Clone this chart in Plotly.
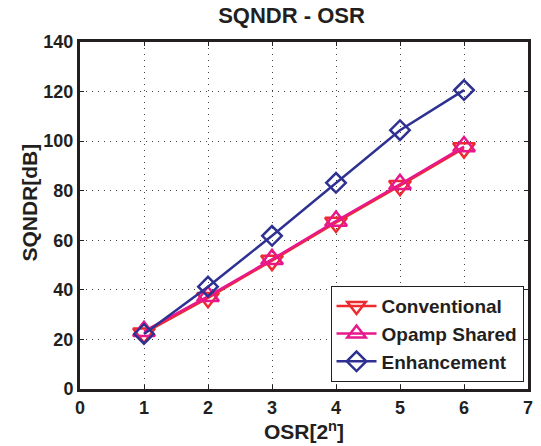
import plotly.graph_objects as go

osr = [1, 2, 3, 4, 5, 6]
conventional = [22.5, 36.8, 51.8, 67.2, 82.0, 97.2]
opamp_shared = [23.3, 37.4, 52.3, 67.8, 82.6, 97.8]
enhancement = [22.2, 41.3, 61.8, 83.2, 104.4, 120.6]

x_ticks = [0, 1, 2, 3, 4, 5, 6, 7]
y_ticks = [0, 20, 40, 60, 80, 100, 120, 140]

font_fam = "Liberation Sans, Arial, sans-serif"
ink = "#231f20"

fig = go.Figure()
fig.add_trace(go.Scatter(x=osr, y=conventional, name="<b>Conventional</b>", mode="lines+markers",
                         line=dict(color="#ed2b2e", width=2.5),
                         marker=dict(symbol="triangle-down-open", size=19, color="#ed2b2e", line=dict(width=2.5))))
fig.add_trace(go.Scatter(x=osr, y=opamp_shared, name="<b>Opamp Shared</b>", mode="lines+markers",
                         line=dict(color="#e8178c", width=2.5),
                         marker=dict(symbol="triangle-up-open", size=19, color="#e8178c", line=dict(width=2.5))))
fig.add_trace(go.Scatter(x=osr, y=enhancement, name="<b>Enhancement</b>", mode="lines+markers",
                         line=dict(color="#2e3192", width=2.5),
                         marker=dict(symbol="diamond-open", size=15, color="#2e3192", line=dict(width=2.5))))

axis_common = dict(showline=True, linecolor=ink, linewidth=3, mirror="ticks",
                   ticks="inside", ticklen=4, tickcolor=ink, tickwidth=1,
                   showgrid=True, gridcolor="#444444", griddash="1px,5px", gridwidth=1,
                   zeroline=False, tickfont=dict(family=font_fam, size=18, color=ink))

fig.update_layout(
    width=541, height=446,
    margin=dict(l=80, r=8, t=42, b=57),
    paper_bgcolor="white", plot_bgcolor="white",
    title=dict(text="<b>SQNDR - OSR</b>", x=291.5 / 541, xanchor="center", y=1 - 15 / 446, yanchor="middle",
               font=dict(family=font_fam, size=22, color=ink)),
    xaxis=dict(range=[0, 7], tickvals=x_ticks, ticktext=[f"<b>{v}</b>" for v in x_ticks],
               title=dict(text="<b>OSR[2<sup>n</sup>]</b>", font=dict(family=font_fam, size=21, color=ink), standoff=4),
               **axis_common),
    yaxis=dict(range=[0, 140], tickvals=y_ticks, ticktext=[f"<b>{v}</b>" for v in y_ticks],
               **axis_common),
    legend=dict(x=0.99, y=0.02, xanchor="right", yanchor="bottom",
                bgcolor="white", bordercolor=ink, borderwidth=1,
                font=dict(family=font_fam, size=19, color=ink),
                tracegroupgap=0, itemwidth=40),
    showlegend=True,
    annotations=[dict(text="<b>SQNDR[dB]</b>", xref="paper", yref="paper",
                      x=28 / 541, y=1 - 203 / 446, xanchor="center", yanchor="middle",
                      textangle=-90, showarrow=False,
                      font=dict(family=font_fam, size=21, color=ink))],
)
# paper coords for annotation are relative to plot area; convert from pixel positions
fig.layout.annotations[0].x = (28 - 80) / (541 - 80 - 8)
fig.layout.annotations[0].y = (446 - 57 - 203) / (446 - 42 - 57)

fig.write_html("out.html")
